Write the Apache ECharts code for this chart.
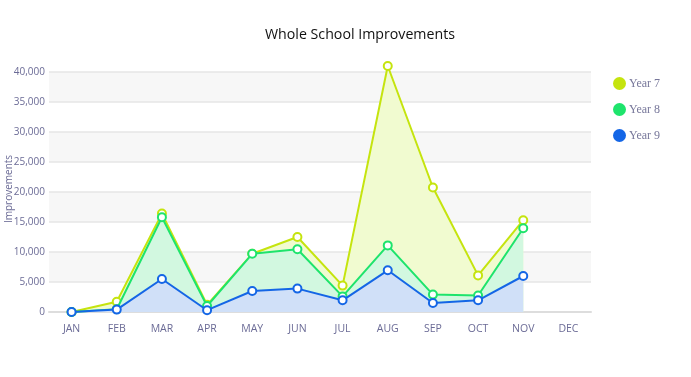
<!DOCTYPE html>
<html><head><meta charset="utf-8">
<script src="https://cdn.jsdelivr.net/npm/echarts@6/dist/echarts.min.js"></script>
<style>html,body{margin:0;padding:0;background:#fff}#c{width:691px;height:377px}</style>
</head><body><div id="c"></div>
<script>
const months = ['JAN','FEB','MAR','APR','MAY','JUN','JUL','AUG','SEP','OCT','NOV','DEC'];
const year7 = [0, 1700, 16400, 1200, 9700, 12500, 4400, 41000, 20750, 6100, 15300, null];
const year8 = [0, 450, 15800, 1000, 9700, 10450, 2600, 11100, 2900, 2750, 13950, null];
const year9 = [0, 400, 5500, 300, 3500, 3900, 1950, 6950, 1500, 1950, 6000, null];
const seriesNames = ['Year 7', 'Year 8', 'Year 9'];
const colors = ['#c5e40e', '#1ee46c', '#1466e6'];
const areaColors = ['#f1fbd0', '#d2f8e0', '#d0e0f8'];

const chart = echarts.init(document.getElementById('c'), null, {renderer: 'canvas'});
const lab = '#6b6b96';
function mk(name, data, i, z) {
  return {
    name, type: 'line', data, z,
    symbol: 'circle', symbolSize: 8,
    itemStyle: {color: '#fff', borderColor: colors[i], borderWidth: 2},
    lineStyle: {color: colors[i], width: 2},
    areaStyle: {color: areaColors[i], opacity: 1},
    emphasis: {disabled: true}
  };
}
chart.setOption({
  animation: false,
  color: colors,
  title: {
    text: 'Whole School Improvements', left: 355, top: 23, textAlign: 'center',
    textStyle: {fontFamily: 'Open Sans', fontWeight: 'normal', fontSize: 14.2, color: '#111'}
  },
  legend: {
    orient: 'vertical', left: 608, top: 72, itemGap: 13,
    icon: 'circle', itemWidth: 13, itemHeight: 13,
    data: seriesNames.map((n, i) => ({name: n, itemStyle: {color: colors[i], borderWidth: 0}})),
    textStyle: {fontFamily: 'Liberation Serif', fontSize: 12, color: '#77779a', padding: [2,0,0,-2]}
  },
  grid: {left: 49, right: 100, top: 66, bottom: 65, containLabel: false, outerBoundsMode: 'none'},
  xAxis: {
    type: 'category', data: months, boundaryGap: true,
    axisLine: {lineStyle: {color: '#ddd', width: 2}},
    axisTick: {alignWithLabel: true, length: 7, lineStyle: {color: '#ccc'}},
    axisLabel: {color: lab, fontSize: 10.5, fontFamily: 'Open Sans', margin: 12}
  },
  yAxis: {
    type: 'value', min: 0, max: 41000, interval: 5000,
    name: 'Improvements', nameLocation: 'middle', nameGap: 35, nameRotate: 90,
    nameMoveOverlap: false,
    nameTextStyle: {color: lab, fontSize: 10, fontFamily: 'Open Sans'},
    axisLine: {show: false}, axisTick: {show: false},
    axisLabel: {color: lab, fontSize: 10, fontFamily: 'Open Sans', margin: 4, showMaxLabel: false,
      formatter: v => v.toLocaleString('en-US')},
    splitLine: {showMaxLine: false, lineStyle: {color: '#e6e6e6', width: 1.5}},
    splitArea: {show: true, areaStyle: {color: ['#ffffff', '#f7f7f7']}}
  },
  series: [
    mk('Year 7', year7, 0, 2),
    mk('Year 8', year8, 1, 3),
    mk('Year 9', year9, 2, 4)
  ]
});
</script></body></html>
